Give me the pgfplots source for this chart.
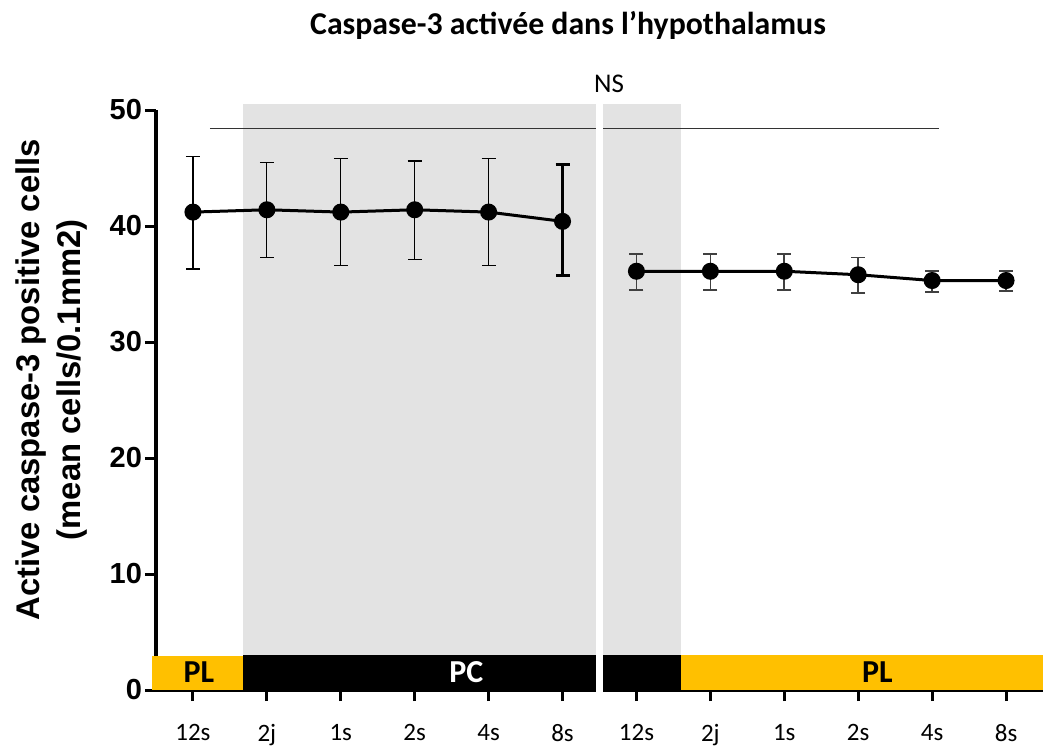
\documentclass[border=0pt]{standalone}
\usepackage{fontspec}
\setmainfont{Carlito}
\newfontfamily\arialfont{Liberation Sans}
\usepackage{pgfplots}
\usepackage{pgfplotstable}
\pgfplotsset{compat=1.18}
\definecolor{plyellow}{HTML}{FFC000}
\definecolor{bggray}{HTML}{E3E3E3}
\pgfplotstableread{
x y ep em
0 41.2 4.8 4.9
1 41.4 4.1 4.1
2 41.2 4.6 4.6
3 41.4 4.2 4.3
4 41.2 4.6 4.6
5 40.4 4.9 4.7
}\leftseries
\pgfplotstableread{
x y ep em
5 40.4 4.9 4.7
}\leftlast
\pgfplotstableread{
x y ep em
6 36.1 1.5 1.6
7 36.1 1.5 1.6
8 36.1 1.5 1.6
9 35.8 1.5 1.6
10 35.3 0.8 1.0
11 35.3 0.8 0.9
}\rightseries
\begin{document}
\begin{tikzpicture}
\begin{axis}[
  scale only axis, width=443.5pt, height=290pt,
  at={(0,0)}, anchor=south west,
  xmin=-0.5, xmax=11.5, ymin=0, ymax=50,
  clip=false,
  axis lines=left,
  axis line style={-, line width=2pt, black},
  xtick={0,...,11},
  xticklabels={12s,2j,1s,2s,4s,8s,12s,2j,1s,2s,4s,8s},
  ytick={0,10,20,30,40,50},
  tick align=outside,
  major tick length=5.5pt,
  tick style={line width=1.5pt, black},
  /pgf/number format/assume math mode=true,
  yticklabel style={font=\arialfont\bfseries\fontsize{14.5}{16}\selectfont, xshift=2pt},
  xticklabel style={font=\fontsize{12.5}{14}\selectfont, yshift=-8pt},
  every axis y label/.style={at={(axis description cs:0,0.535)}, rotate=90, anchor=center, yshift=52pt, align=center, font=\arialfont\bfseries\fontsize{16.4}{20.5}\selectfont},
  ylabel={Active caspase-3 positive cells\\(mean cells/0.1mm2)},
]
% shaded region
\fill[bggray] (axis cs:0.675,0) rectangle (axis cs:6.6,50.5);
% NS lines
\draw[black!80, line width=0.75pt] (axis cs:0.23,48.4) -- (axis cs:10.09,48.4);
% treatment bars
\fill[plyellow] (axis cs:-0.55,0) rectangle (axis cs:0.675,2.9);
\fill[black] (axis cs:0.675,0) rectangle (axis cs:6.6,3.05);
\fill[plyellow] (axis cs:6.6,0) rectangle (axis cs:11.5,3.05);
\node[font=\bfseries\fontsize{16}{18}\selectfont, text=black] at (axis cs:0.08,1.5) {PL};
\node[font=\bfseries\fontsize{16}{18}\selectfont, text=white] at (axis cs:3.7,1.5) {PC};
\node[font=\bfseries\fontsize{16}{18}\selectfont, text=black] at (axis cs:9.26,1.5) {PL};
% white gap
\fill[white] (axis cs:5.45,-0.2) rectangle (axis cs:5.55,50.6);
\node[font=\fontsize{13.5}{15}\selectfont] at (axis cs:5.63,52.3) {NS};
% data
\addplot[black, line width=1.5pt, mark=*, mark size=3.5pt,
  error bars/.cd, y dir=both, y explicit,
  error bar style={line width=0.6pt, black},
  error mark options={rotate=90, mark size=3.5pt, line width=0.6pt, black}]
  table[x=x, y=y, y error plus=ep, y error minus=em] {\leftseries};
\addplot[black, only marks, mark=*, mark size=3.5pt,
  error bars/.cd, y dir=both, y explicit,
  error bar style={line width=1.5pt, black},
  error mark options={rotate=90, mark size=3.5pt, line width=1.5pt, black}]
  table[x=x, y=y, y error plus=ep, y error minus=em] {\leftlast};
\addplot[black, line width=1.5pt, mark=*, mark size=3.5pt,
  error bars/.cd, y dir=both, y explicit,
  error bar style={line width=0.8pt, black!75},
  error mark options={rotate=90, mark size=3.5pt, line width=0.8pt, black!75}]
  table[x=x, y=y, y error plus=ep, y error minus=em] {\rightseries};
\node[font=\bfseries\fontsize{15.9}{18}\selectfont] at (rel axis cs:0.4645,1) [yshift=42.5pt] {Caspase-3 activée dans l’hypothalamus};
\end{axis}
\pgfresetboundingbox
\useasboundingbox (-78pt,-30.5pt) rectangle (443.5pt,345pt);
\end{tikzpicture}
\end{document}
